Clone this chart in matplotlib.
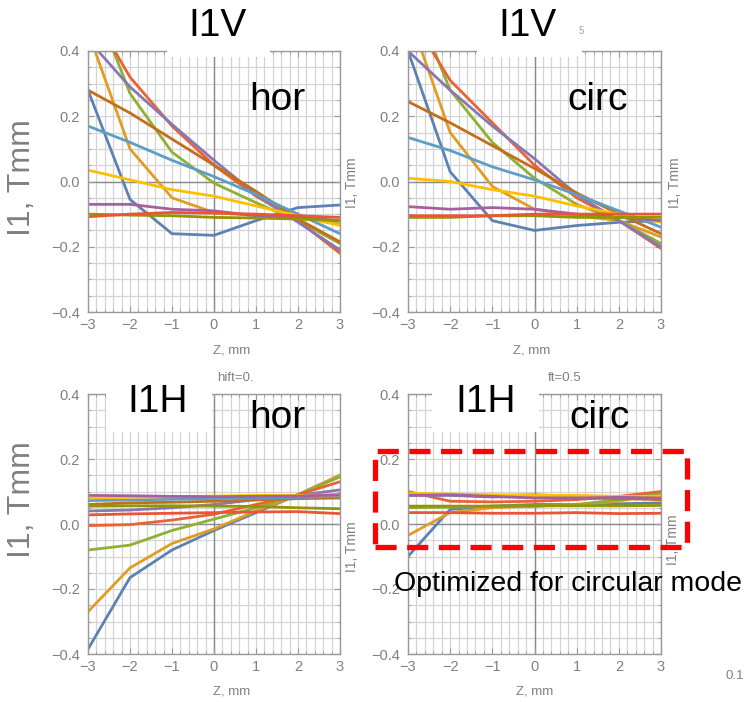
import matplotlib
matplotlib.use("Agg")
import numpy as np
import matplotlib.pyplot as plt
from matplotlib.patches import Rectangle
from matplotlib.ticker import MultipleLocator

plt.rcParams['font.family'] = ['Liberation Sans', 'DejaVu Sans']

# Mathematica default palette
colors = ['#5E81B5', '#E19C24', '#8FB032', '#EB6235', '#8778B3', '#C56E1A',
          '#5D9EC7', '#FFBF00', '#A5609D', '#929600', '#E95536']

z = [-3, -2, -1, 0, 1, 2, 3]

# I1V, horizontal mode
v_hor = [
    [0.28, -0.055, -0.16, -0.165, -0.12, -0.08, -0.072],
    [0.46, 0.10, -0.05, -0.095, -0.105, -0.11, -0.13],
    [0.60, 0.27, 0.09, -0.005, -0.065, -0.12, -0.19],
    [0.54, 0.32, 0.17, 0.05, -0.045, -0.12, -0.22],
    [0.435, 0.29, 0.175, 0.065, -0.04, -0.125, -0.21],
    [0.28, 0.21, 0.13, 0.05, -0.03, -0.115, -0.185],
    [0.17, 0.12, 0.065, 0.015, -0.04, -0.10, -0.16],
    [0.035, 0.005, -0.025, -0.045, -0.075, -0.105, -0.135],
    [-0.07, -0.07, -0.085, -0.09, -0.105, -0.11, -0.12],
    [-0.10, -0.103, -0.105, -0.11, -0.112, -0.115, -0.12],
    [-0.108, -0.10, -0.095, -0.097, -0.10, -0.105, -0.11],
]

# I1V, circular mode
v_circ = [
    [0.40, 0.03, -0.12, -0.15, -0.135, -0.125, -0.12],
    [0.52, 0.15, -0.015, -0.085, -0.105, -0.12, -0.17],
    [0.60, 0.28, 0.12, 0.01, -0.07, -0.12, -0.19],
    [0.52, 0.31, 0.18, 0.05, -0.05, -0.12, -0.205],
    [0.40, 0.28, 0.17, 0.07, -0.04, -0.12, -0.20],
    [0.245, 0.18, 0.11, 0.04, -0.035, -0.10, -0.16],
    [0.135, 0.095, 0.045, 0.005, -0.04, -0.09, -0.14],
    [0.01, 0.0, -0.025, -0.045, -0.075, -0.10, -0.125],
    [-0.077, -0.085, -0.08, -0.085, -0.10, -0.11, -0.12],
    [-0.11, -0.11, -0.105, -0.105, -0.11, -0.11, -0.11],
    [-0.105, -0.105, -0.105, -0.10, -0.10, -0.10, -0.10],
]

# I1H, horizontal mode
h_hor = [
    [-0.385, -0.165, -0.08, -0.02, 0.035, 0.09, 0.15],
    [-0.27, -0.135, -0.06, -0.015, 0.04, 0.09, 0.15],
    [-0.08, -0.065, -0.02, 0.015, 0.05, 0.09, 0.145],
    [-0.005, -0.002, 0.012, 0.03, 0.06, 0.09, 0.13],
    [0.04, 0.043, 0.05, 0.06, 0.075, 0.088, 0.105],
    [0.06, 0.065, 0.067, 0.07, 0.074, 0.078, 0.08],
    [0.072, 0.074, 0.076, 0.078, 0.08, 0.082, 0.085],
    [0.08, 0.082, 0.084, 0.086, 0.088, 0.088, 0.09],
    [0.088, 0.087, 0.085, 0.084, 0.085, 0.086, 0.09],
    [0.055, 0.056, 0.056, 0.055, 0.054, 0.05, 0.047],
    [0.028, 0.031, 0.033, 0.035, 0.037, 0.038, 0.032],
]

# I1H, circular mode
h_circ = [
    [-0.10, 0.045, 0.055, 0.06, 0.06, 0.062, 0.065],
    [-0.035, 0.035, 0.05, 0.055, 0.06, 0.07, 0.095],
    [0.05, 0.052, 0.055, 0.055, 0.06, 0.075, 0.095],
    [0.10, 0.07, 0.068, 0.07, 0.075, 0.085, 0.10],
    [0.088, 0.088, 0.083, 0.085, 0.085, 0.085, 0.085],
    [0.093, 0.09, 0.085, 0.085, 0.08, 0.078, 0.075],
    [0.09, 0.089, 0.087, 0.09, 0.085, 0.083, 0.08],
    [0.095, 0.092, 0.09, 0.088, 0.088, 0.085, 0.085],
    [0.088, 0.09, 0.085, 0.08, 0.08, 0.082, 0.08],
    [0.055, 0.055, 0.055, 0.056, 0.056, 0.056, 0.057],
    [0.035, 0.035, 0.033, 0.033, 0.035, 0.032, 0.033],
]

W, H = 745, 702
fig = plt.figure(figsize=(W / 100, H / 100), dpi=100)
grey = '#808080'


def px(x0, y0, x1, y1):
    """Pixel box (top-left origin) to figure rect."""
    return [x0 / W, 1 - y1 / H, (x1 - x0) / W, (y1 - y0) / H]


def panel(rect, data):
    ax = fig.add_axes(rect)
    ax.set_xlim(-3, 3)
    ax.set_ylim(-0.4, 0.4)
    for gx in np.arange(-3, 3.01, 0.2):
        ax.axvline(gx, color='#d4d4d4', lw=0.9, zorder=0)
    for gy in np.arange(-0.4, 0.401, 0.05):
        ax.axhline(gy, color='#d4d4d4', lw=0.9, zorder=0)
    ax.axvline(0, color='#8a8a8a', lw=1.0, zorder=1)
    ax.axhline(0, color='#8a8a8a', lw=1.0, zorder=1)
    for i, row in enumerate(data):
        ax.plot(z, row, color=colors[i], lw=2.0, zorder=2)
    ax.xaxis.set_minor_locator(MultipleLocator(0.2))
    ax.yaxis.set_minor_locator(MultipleLocator(0.05))
    ax.set_xticks(z)
    ax.set_xticklabels(['\u22123', '\u22122', '\u22121', '0', '1', '2', '3'])
    ax.set_yticks([-0.4, -0.2, 0.0, 0.2, 0.4])
    ax.set_yticklabels(['\u22120.4', '\u22120.2', '0.0', '0.2', '0.4'])
    ax.tick_params(which='both', direction='in', top=True, right=True,
                   color='#999999', labelcolor=grey, labelsize=10.5)
    ax.tick_params(axis='y', pad=6)
    ax.tick_params(axis='x', pad=4)
    ax.tick_params(which='major', length=4)
    ax.tick_params(which='minor', length=2)
    for s in ax.spines.values():
        s.set_color('#999999')
        s.set_linewidth(1.0)
    return ax


panel(px(88, 51, 340, 312), v_hor)
panel(px(408, 51, 661, 312), v_circ)
panel(px(88, 394, 340, 654), h_hor)
panel(px(408, 394, 661, 654), h_circ)

# white label backgrounds covering the frames
for (x0, y0, x1, y1) in [(167, 0, 270, 57), (477, 0, 582, 57),
                         (106, 370, 212, 432), (432, 370, 539, 432)]:
    fig.add_artist(Rectangle((x0 / W, 1 - y1 / H), (x1 - x0) / W, (y1 - y0) / H,
                             transform=fig.transFigure, facecolor='white',
                             edgecolor='none', zorder=5))


def ftext(x, y, s, **kw):
    kw.setdefault('zorder', 6)
    fig.text(x / W, 1 - y / H, s, ha='center', va='center', **kw)


ftext(218, 26, 'I1V', fontsize=28)
ftext(528, 26, 'I1V', fontsize=28)
ftext(581, 31, '5', fontsize=7, color='#9aa4c0')
ftext(158, 402, 'I1H', fontsize=28)
ftext(486, 402, 'I1H', fontsize=28)
ftext(277, 100, 'hor', fontsize=28)
ftext(598, 100, 'circ', fontsize=28)
ftext(277, 418, 'hor', fontsize=28)
ftext(600, 418, 'circ', fontsize=28)

ftext(22, 178, 'I1, Tmm', fontsize=23, color=grey, rotation=90)
ftext(22, 500, 'I1, Tmm', fontsize=23, color=grey, rotation=90)
ftext(352, 183, 'I1, Tmm', fontsize=10, color=grey, rotation=90)
ftext(675, 183, 'I1, Tmm', fontsize=10, color=grey, rotation=90)
ftext(352, 547, 'I1, Tmm', fontsize=10, color=grey, rotation=90)
ftext(673, 540, 'I1, Tmm', fontsize=10, color=grey, rotation=90, zorder=1)

ftext(232, 350, 'Z, mm', fontsize=9.5, color=grey)
ftext(532, 350, 'Z, mm', fontsize=9.5, color=grey)
ftext(232, 692, 'Z, mm', fontsize=9.5, color=grey)
ftext(535, 692, 'Z, mm', fontsize=9.5, color=grey)
ftext(235, 378, 'hift=0.', fontsize=9.5, color=grey)
ftext(565, 378, 'ft=0.5', fontsize=9.5, color=grey)
ftext(735, 676, '0.1', fontsize=9.5, color=grey)

ftext(568, 584, 'Optimized for circular mode', fontsize=20.5)

fig.add_artist(Rectangle((375 / W, 1 - 547 / H), (687 - 375) / W, (547 - 451) / H,
                         transform=fig.transFigure, facecolor='none',
                         edgecolor='#ff0000', lw=3.8, ls=(0, (4, 2)), zorder=7))

fig.savefig('out.png', dpi=100)
